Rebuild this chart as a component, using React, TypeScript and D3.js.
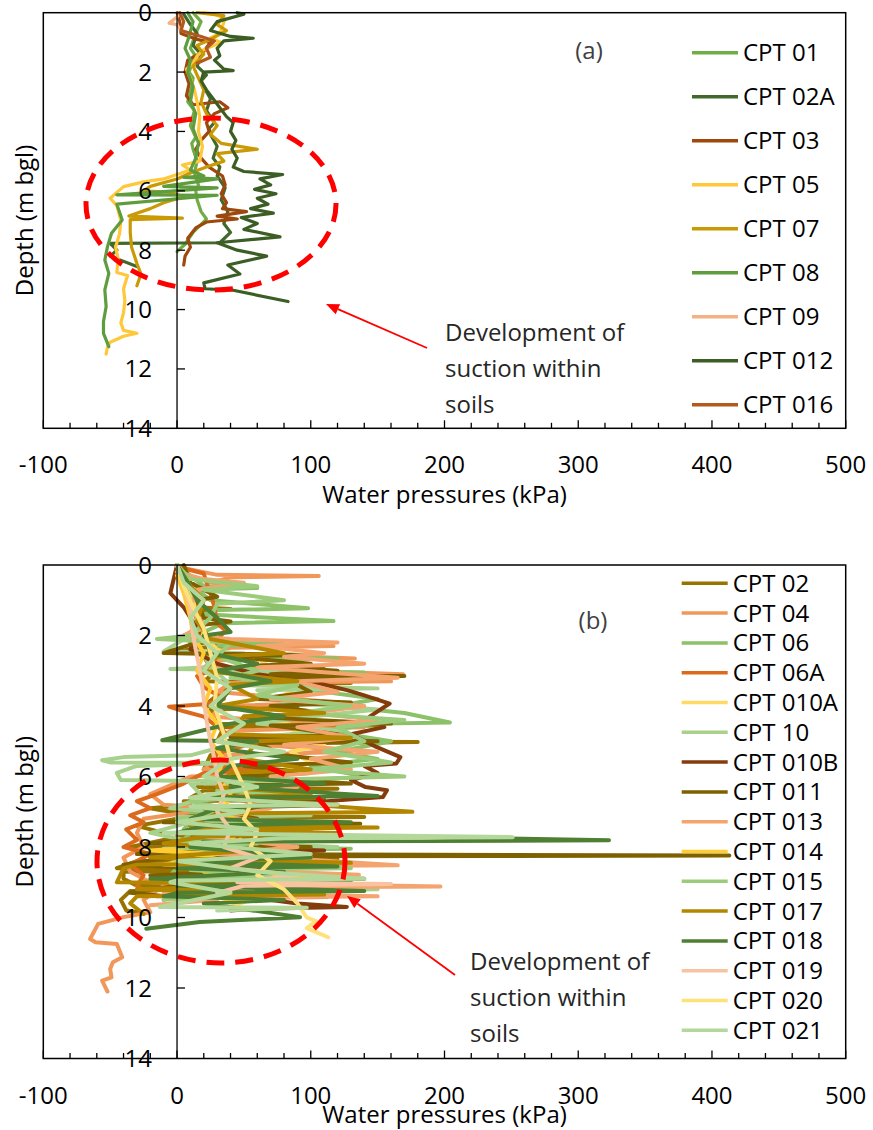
import React from 'react';
import * as d3 from 'd3';

type Pt = [number, number]; // [water pressure kPa, depth m]

const xTickValues = [-100, 0, 100, 200, 300, 400, 500];
const yTickValues = [0, 2, 4, 6, 8, 10, 12, 14];

// ---------------- Panel (a) ----------------
const namesA = ['CPT 01', 'CPT 02A', 'CPT 03', 'CPT 05', 'CPT 07', 'CPT 08', 'CPT 09', 'CPT 012', 'CPT 016'];
const colorsA = ['#70AD47', '#43682B', '#9E480E', '#FFC83A', '#C99A06', '#5E9C3E', '#F4B183', '#3C5E25', '#B4581E'];

const a01: Pt[] = [[12,0],[18,0.3],[14,0.7],[10,1.2],[13,1.4],[12,1.6],[9,2.0],[12,2.2],[11,2.5],[8,3.0],[13,3.3],[10,3.8],[14,4.2],[11,4.4],[12,4.6],[15,5.0],[13,5.4],[16,5.8],[14,6.0],[15,6.3],[18,6.7],[22,6.95],[12,7.4],[6,7.8],[0,8.05]];
const a02A: Pt[] = [[5,0.05],[10,0.4],[15,0.7],[12,1.1],[18,1.4],[15,1.8],[22,2.1],[18,2.3],[20,2.5],[25,2.9],[22,3.3],[28,3.7],[24,3.9],[25,4.1],[30,4.5],[27,4.9],[32,5.2],[30,5.5],[36,5.9],[33,6.3],[38,6.7],[35,7.1],[40,7.4],[32,7.75],[-50,7.77],[-45,8.0],[-50,8.2],[-30,8.55]];
const a03: Pt[] = [[0,0],[2,0.3],[3,0.7],[15,0.9],[25,1.0],[20,1.3],[8,1.6],[6,2.0],[9,2.4],[7,2.8],[12,3.1],[32,3.0],[38,3.2],[28,3.4],[22,3.7],[24,4.0],[18,4.3],[14,4.6],[18,4.9],[24,5.2],[34,5.5],[36,5.8],[33,6.1],[37,6.4],[34,6.6],[52,6.7],[30,6.85],[45,6.95],[22,7.05],[14,7.25],[8,7.6],[10,7.9],[6,8.2],[5,8.5]];
const a05: Pt[] = [[20,0],[28,0.05],[36,0.2],[32,0.7],[25,0.85],[33,1.0],[20,1.25],[15,1.45],[12,1.7],[7,1.9],[10,2.2],[13,2.6],[15,3.0],[17,3.5],[16,4.0],[19,4.5],[17,5.0],[4,5.13],[10,5.3],[0,5.45],[-10,5.6],[-25,5.7],[-40,5.86],[-50,6.25],[-45,6.5],[-42,7.0],[-43,7.45],[-46,7.9],[-44,8.3],[-45,8.75],[-37,8.85],[-40,9.3],[-39,9.7],[-40,10.1],[-42,10.45],[-40,10.7],[-30,10.8],[-40,10.9],[-50,11.1],[-52,11.25],[-53,11.5]];
const a07: Pt[] = [[15,0],[35,0.1],[30,0.4],[37,0.6],[25,0.9],[15,1.1],[20,1.4],[12,1.8],[16,2.2],[20,2.6],[18,3.0],[22,3.4],[30,3.8],[25,4.1],[33,4.4],[60,4.6],[30,4.75],[35,5.0],[22,5.2],[10,5.4],[0,5.6],[-20,5.85],[-25,6.0],[-5,6.05],[5,6.2],[-10,6.4],[-20,6.6],[-36,6.85],[4,6.92],[-35,6.97],[-35,7.4],[-34,7.9],[-30,8.45],[-27,8.8],[-30,9.2]];
const a08: Pt[] = [[8,0],[12,0.3],[9,0.8],[6,1.2],[10,1.6],[8,2.0],[12,2.5],[10,3.0],[14,3.4],[12,3.9],[16,4.4],[14,4.9],[10,5.3],[20,5.5],[5,5.55],[30,5.6],[-10,5.85],[30,5.9],[-45,6.14],[30,6.15],[-45,6.45],[-41,6.98],[-49,7.43],[-52,7.88],[-54,8.33],[-51,8.78],[-54,9.34],[-53,9.9],[-55,10.4],[-55,10.8],[-51,11.25]];
const a09: Pt[] = [[2,0],[0,0.15],[-6,0.35],[0,0.4],[3,0.6]];
const a012: Pt[] = [[45,0],[50,0.05],[30,0.3],[25,0.6],[40,0.8],[57,0.86],[35,0.95],[30,1.2],[32,1.45],[28,1.6],[35,1.9],[42,1.95],[20,2.0],[18,2.3],[22,2.6],[27,2.9],[32,3.2],[37,3.5],[42,3.7],[40,4.0],[44,4.3],[41,4.6],[45,4.9],[42,5.2],[50,5.35],[79,5.45],[62,5.6],[70,5.8],[58,5.95],[74,6.1],[60,6.25],[68,6.45],[55,6.6],[72,6.75],[48,6.9],[60,7.1],[50,7.3],[77,7.55],[30,7.75],[45,8.0],[67,8.2],[38,8.5],[47,8.8],[20,9.1],[21,9.3],[42,9.35],[83,9.73]];
const a016: Pt[] = [[2,0],[5,0.3],[3,0.6],[18,0.8],[28,0.95],[22,1.2],[25,1.5],[15,1.7]];
const seriesA: Pt[][] = [a01, a02A, a03, a05, a07, a08, a09, a012, a016];

// ---------------- Panel (b) ----------------
const namesB = ['CPT 02', 'CPT 04', 'CPT 06', 'CPT 06A', 'CPT 010A', 'CPT 10', 'CPT 010B', 'CPT 011', 'CPT 013', 'CPT 014', 'CPT 015', 'CPT 017', 'CPT 018', 'CPT 019', 'CPT 020', 'CPT 021'];
const colorsB = ['#997300', '#F1975A', '#8CC168', '#DC6A1C', '#FFD966', '#A9D18E', '#843C0C', '#7F6000', '#F4A46E', '#FFCD33', '#9DCB7C', '#B38600', '#4E7F32', '#F8C3A0', '#FFE17A', '#B4D89A'];

const b02: Pt[] = [[0,0],[5,0.3],[8,0.8],[15,1.2],[40,1.25],[12,1.3],[18,1.8],[10,2.2],[60,2.3],[15,2.35],[-5,2.5],[100,2.55],[20,2.6],[25,2.9],[110,2.95],[30,3.0],[20,3.3],[130,3.35],[40,3.4],[30,3.7],[20,4.0],[90,4.05],[25,4.1],[30,4.5],[150,4.55],[35,4.6],[30,5.0],[180,5.02],[40,5.08],[25,5.4],[20,5.8],[100,5.85],[30,5.9],[15,6.3],[120,6.35],[20,6.4],[10,6.6],[110,6.65],[5,6.7],[10,6.8],[-20,6.9],[-5,7.0],[70,7.05],[5,7.1],[140,7.15],[0,7.2],[-30,7.4],[-10,7.6],[60,7.65],[0,7.7],[100,7.75],[-10,7.8],[-35,8.0],[80,8.05],[-20,8.1],[-20,8.3],[120,8.35],[-30,8.4],[-45,8.6],[60,8.65],[-40,8.7],[-40,8.9],[-30,9.1],[40,9.15],[-35,9.25],[-42,9.5],[-38,9.8],[-30,9.85]];
const b04: Pt[] = [[0,0.05],[30,0.28],[106,0.31],[40,0.35],[25,0.5],[55,0.6],[20,0.7],[15,1.0],[20,1.5],[10,1.9],[5,2.0],[30,2.2],[117,2.3],[40,2.35],[25,2.5],[133,2.65],[30,2.7],[20,2.9],[169,3.1],[50,3.15],[160,3.3],[40,3.35],[30,3.6],[120,3.9],[35,4.0],[25,4.3],[140,4.6],[40,4.7],[30,5.0],[130,5.3],[35,5.4],[20,5.8],[80,5.9],[10,6.0],[-20,6.5],[-10,6.8],[30,6.9],[-25,7.2],[-30,7.6],[-25,8.0],[-40,8.3],[-35,8.7],[-20,9.0],[120,9.05],[-10,9.1],[-25,9.5],[-20,9.85],[-40,9.99],[-59,10.18],[-65,10.61],[-61,10.7],[-45,10.75],[-41,11.13],[-48,11.27],[-50,11.46],[-49,11.7],[-56,11.79],[-52,12.1]];
const b06: Pt[] = [[0,0],[10,0.3],[20,0.6],[60,0.65],[15,0.7],[25,1.0],[98,1.23],[30,1.28],[20,1.4],[117,1.59],[35,1.65],[20,1.9],[30,2.2],[80,2.25],[25,2.3],[40,2.6],[120,2.65],[45,2.7],[50,3.0],[140,3.05],[60,3.1],[90,3.5],[150,3.8],[120,4.0],[170,4.2],[204,4.47],[150,4.5],[110,4.7],[160,5.0],[120,5.3],[150,5.5],[100,5.7],[140,6.0],[60,6.2],[30,6.5],[80,6.55],[20,6.6],[10,7.0],[90,7.05],[15,7.1],[5,7.5],[100,7.55],[10,7.6],[0,8.0],[130,8.05],[5,8.1],[-5,8.5],[90,8.55],[0,8.6],[-10,9.0],[60,9.05],[-5,9.1],[-10,9.5]];
const b06A: Pt[] = [[0,0.05],[20,0.24],[22,0.5],[25,0.8],[28,1.2],[30,1.66],[36,1.85],[27,2.3],[28,2.7],[25,3.0],[15,3.15],[20,3.46],[35,3.8],[20,3.95],[-6,4.02],[5,4.15],[20,4.3],[37,4.78],[55,5.07],[30,5.35],[25,5.7],[60,5.8],[20,5.9],[5,6.2],[-15,6.5],[-30,6.7],[-20,6.9],[-35,7.1],[-25,7.3],[-38,7.5],[-30,7.8],[-40,8.0],[-20,8.2],[-35,8.5],[-25,8.8],[-30,9.1],[-20,9.35],[-15,9.4],[112,9.42],[20,9.45],[0,9.5]];
const b010A: Pt[] = [[0,0.1],[8,0.5],[12,1.0],[15,1.5],[20,2.0],[30,2.4],[50,2.6],[62,2.7],[70,2.9],[65,3.27],[90,3.46],[80,3.7],[95,3.9],[70,4.1],[67,4.4],[95,4.6],[80,4.9],[110,5.1],[85,5.3],[100,5.6],[70,5.9],[50,6.1],[40,6.4],[35,6.8],[45,7.2],[40,7.6],[55,8.0],[45,8.4],[60,8.8],[50,9.2],[55,9.5],[40,9.7]];
const b10: Pt[] = [[0,0.1],[5,0.5],[10,1.0],[15,1.5],[10,2.0],[-10,2.45],[50,2.5],[20,2.55],[25,2.9],[-5,2.95],[100,3.0],[30,3.05],[40,3.4],[150,3.5],[60,3.55],[80,3.9],[150,4.1],[100,4.3],[60,4.5],[120,4.7],[50,4.9],[30,5.2],[10,5.4],[-40,5.45],[-56,5.54],[-50,5.6],[40,5.62],[-30,5.7],[-45,5.9],[-42,6.1],[0,6.12],[110,6.15],[10,6.2],[20,6.6],[-5,6.9],[30,7.0],[100,7.1],[0,7.15],[10,7.3],[-20,7.6],[5,7.8],[120,8.0],[-10,8.05],[-10,8.2],[40,8.6],[-5,9.0],[150,9.2],[0,9.25],[20,9.4]];
const b010B: Pt[] = [[0,0],[-5,0.8],[5,1.2],[15,1.8],[10,2.4],[30,2.8],[60,3.1],[100,3.3],[127,3.55],[140,3.7],[159,3.93],[144,4.3],[155,4.6],[130,4.8],[149,5.16],[167,5.45],[164,5.63],[140,5.7],[150,5.9],[130,6.1],[141,6.3],[157,6.39],[154,6.58],[105,6.72],[82,6.77],[60,6.9],[30,7.2],[50,7.6],[30,8.0],[110,8.1],[40,8.2],[20,8.6],[60,9.0],[30,9.3],[90,9.6],[127,9.7],[60,9.75],[40,9.8]];
const b011: Pt[] = [[5,0],[10,0.5],[30,0.9],[15,1.0],[20,1.5],[40,1.6],[18,1.7],[15,2.2],[-10,2.5],[90,2.55],[40,2.6],[100,2.8],[60,2.85],[120,3.0],[70,3.1],[170,3.15],[80,3.2],[100,3.6],[60,3.8],[130,3.9],[70,4.0],[110,4.2],[50,4.3],[160,4.5],[70,4.55],[120,4.8],[40,4.9],[150,5.0],[60,5.05],[80,5.4],[130,5.6],[50,5.7],[100,5.9],[40,6.0],[130,6.2],[40,6.25],[70,6.4],[30,6.6],[120,6.8],[20,6.9],[60,7.2],[-10,7.3],[137,7.34],[10,7.4],[40,7.7],[-20,7.9],[100,8.0],[10,8.1],[-30,8.2],[413,8.24],[0,8.27],[-40,8.5],[60,8.7],[-20,8.8],[140,8.9],[0,8.95],[90,9.0],[0,9.1],[-35,9.3],[20,9.5]];
const b013: Pt[] = [[0,0.2],[20,0.4],[50,0.5],[15,0.7],[10,1.2],[20,1.8],[5,2.0],[40,2.1],[120,2.2],[60,2.3],[110,2.5],[80,2.6],[140,2.8],[60,2.9],[165,3.2],[90,3.3],[120,3.6],[70,3.8],[140,4.0],[100,4.2],[150,4.4],[90,4.6],[130,4.9],[80,5.1],[150,5.3],[100,5.5],[130,5.8],[70,6.0],[90,6.3],[40,6.6],[70,6.9],[30,7.2],[120,7.3],[30,7.35],[60,7.5],[20,7.7],[90,8.0],[30,8.2],[165,8.52],[40,8.55],[80,8.7],[136,8.79],[40,8.85],[20,9.0],[197,9.12],[60,9.15],[-10,9.3],[150,9.4],[20,9.45],[30,9.5],[-20,9.65]];
const b014: Pt[] = [[0,0.3],[5,0.8],[10,1.5],[12,2.0],[20,2.5],[15,3.0],[25,3.5],[20,4.0],[30,4.5],[25,5.0],[35,5.5],[30,6.0],[40,6.5],[35,7.0],[50,7.4],[40,7.8],[20,8.0],[-20,8.1],[30,8.2],[-10,8.5],[80,8.6],[20,8.7],[100,8.9],[40,9.0],[10,9.2],[60,9.4],[30,9.6]];
const b015: Pt[] = [[0,0],[10,0.4],[60,0.6],[20,0.7],[80,1.0],[30,1.1],[25,1.5],[10,2.0],[-15,2.1],[40,2.2],[30,2.6],[60,3.0],[40,3.2],[90,3.4],[60,3.7],[130,4.0],[90,4.2],[170,4.4],[120,4.6],[140,5.0],[110,5.3],[160,5.6],[100,5.8],[170,6.0],[60,6.1],[30,6.4],[80,6.5],[10,6.7],[50,7.0],[0,7.2],[80,7.4],[10,7.5],[110,7.8],[0,7.85],[60,7.9],[0,8.0],[100,8.3],[20,8.4],[130,8.6],[10,8.65],[70,8.8],[0,8.9],[120,9.0],[10,9.1],[40,9.4],[-10,9.5]];
const b017: Pt[] = [[0,0],[10,0.6],[20,1.0],[15,1.6],[25,2.1],[80,2.5],[30,2.6],[20,3.0],[90,3.3],[40,3.4],[60,3.8],[30,4.0],[110,4.2],[50,4.3],[40,4.8],[130,4.9],[60,5.0],[50,5.5],[100,5.8],[40,5.9],[30,6.3],[100,6.5],[20,6.6],[176,7.0],[30,7.05],[10,7.4],[150,7.45],[10,7.5],[120,7.6],[20,7.7],[-10,7.9],[60,8.1],[-20,8.3],[130,8.45],[-30,8.5],[-40,8.6],[-45,9.0],[90,9.05],[-30,9.2],[110,9.35],[-30,9.4],[-35,9.6],[-25,9.9]];
const b018: Pt[] = [[0,0],[8,0.5],[15,1.0],[30,1.5],[40,1.9],[20,2.0],[25,2.5],[60,2.8],[30,3.0],[70,3.3],[40,3.5],[30,4.0],[80,4.3],[40,4.5],[-11,4.97],[60,5.0],[30,5.2],[90,5.5],[40,5.7],[30,6.0],[110,6.2],[40,6.3],[150,6.55],[20,6.6],[100,6.8],[30,6.9],[10,7.2],[130,7.3],[20,7.4],[0,7.6],[323,7.81],[20,7.85],[10,8.0],[100,8.3],[0,8.4],[120,8.55],[0,8.6],[80,8.7],[-20,8.9],[130,9.0],[0,9.1],[140,9.25],[0,9.3],[-10,9.4],[80,9.5],[20,9.6],[92,9.99],[17,10.13],[-23,10.32]];
const b019: Pt[] = [[0,0],[5,0.6],[10,1.2],[12,2.0],[15,2.6],[18,3.2],[20,3.8],[22,4.4],[25,5.0],[28,5.5],[30,6.0],[35,6.5],[30,7.0],[40,7.5],[35,8.0],[60,8.3],[40,8.6],[90,8.8],[45,9.0],[160,9.05],[50,9.1],[30,9.3]];
const b020: Pt[] = [[0,0],[5,0.6],[12,1.2],[20,1.8],[25,2.5],[30,3.2],[28,4.0],[35,4.8],[40,5.5],[45,5.9],[50,6.3],[55,6.8],[50,7.2],[60,7.6],[55,8.0],[70,8.4],[60,8.8],[80,9.2],[90,9.6],[97,10.0],[104,10.1],[97,10.3],[113,10.56]];
const b021: Pt[] = [[0,0],[5,0.5],[20,1.0],[10,1.5],[15,2.0],[30,2.5],[20,3.0],[40,3.5],[25,4.0],[50,4.5],[30,5.0],[80,5.3],[40,5.5],[20,6.0],[60,6.3],[10,6.6],[120,6.8],[10,6.85],[50,7.0],[0,7.3],[60,7.5],[-10,7.6],[251,7.72],[80,7.75],[10,7.9],[100,8.2],[0,8.4],[60,8.7],[140,8.9],[0,8.95],[-5,9.0],[40,9.3],[-13,9.7],[97,9.72],[30,9.8]];
const seriesB: Pt[][] = [b02, b04, b06, b06A, b010A, b10, b010B, b011, b013, b014, b015, b017, b018, b019, b020, b021];

const FONT = "'Open Sans', sans-serif";
const FS = 24;

interface PanelProps {
  top: number;
  bottom: number;
  series: Pt[][];
  names: string[];
  colors: string[];
  lw: number;
  legendX: number;
  legendY0: number;
  legendDy: number;
  tag: string;
  tagX: number;
  tagY: number;
  ell: { cx: number; cy: number; rx: number; ry: number };
  arrow: { x1: number; y1: number; x2: number; y2: number };
  noteX: number;
  noteY0: number;
  titleBaseline: number;
}

function Panel(p: PanelProps) {
  const left = 43.3, right = 845.7;
  const x = d3.scaleLinear().domain([-100, 500]).range([left, right]);
  const y = d3.scaleLinear().domain([0, 14]).range([p.top, p.bottom]);
  const line = d3.line<Pt>().x(d => x(d[0])).y(d => y(d[1])).curve(d3.curveLinear);
  const minor = x.ticks(30);
  const x0 = x(0);

  const ax1 = p.arrow.x1, ay1 = p.arrow.y1, ax2 = p.arrow.x2, ay2 = p.arrow.y2;
  const ang = Math.atan2(ay2 - ay1, ax2 - ax1);
  const hl = 13, hw = 5.5;
  const bx = ax2 - hl * Math.cos(ang), by = ay2 - hl * Math.sin(ang);
  const head = `M${ax2},${ay2} L${bx + hw * Math.sin(ang)},${by - hw * Math.cos(ang)} L${bx - hw * Math.sin(ang)},${by + hw * Math.cos(ang)} Z`;

  const noteLines = ['Development of', 'suction within', 'soils'];

  return (
    <g>
      {p.series.map((s, i) => (
        <path key={i} d={line(s) || ''} fill="none" stroke={p.colors[i]} strokeWidth={p.lw} strokeLinejoin="round" strokeLinecap="round" />
      ))}
      <rect x={left} y={p.top} width={right - left} height={p.bottom - p.top} fill="none" stroke="#000" strokeWidth={1.5} />
      <line x1={x0} x2={x0} y1={p.top} y2={p.bottom} stroke="#000" strokeWidth={1.3} />
      {yTickValues.filter(v => v > 0 && v < 14).map(v => (
        <line key={v} x1={x0} x2={x0 + 8} y1={y(v)} y2={y(v)} stroke="#000" strokeWidth={1.3} />
      ))}
      {minor.map(v => (
        <line key={v} x1={x(v)} x2={x(v)} y1={p.bottom} y2={p.bottom - (v % 100 === 0 ? 8 : 5.5)} stroke="#000" strokeWidth={1.3} />
      ))}
      {yTickValues.map(v => (
        <text key={v} x={x0 - 25} y={y(v) + 8.5} textAnchor="end" fontFamily={FONT} fontSize={FS} fill="#000">{v}</text>
      ))}
      {xTickValues.map(v => (
        <text key={v} x={x(v)} y={p.bottom + 45} textAnchor="middle" fontFamily={FONT} fontSize={FS} fill="#000">{v}</text>
      ))}
      <text x={(left + right) / 2} y={p.titleBaseline} textAnchor="middle" fontFamily={FONT} fontSize={FS} fill="#000">Water pressures (kPa)</text>
      <text transform={`translate(33,${(p.top + p.bottom) / 2}) rotate(-90)`} textAnchor="middle" fontFamily={FONT} fontSize={FS} fill="#000">Depth (m bgl)</text>
      {p.names.map((n, i) => {
        const ly = p.legendY0 + i * p.legendDy;
        return (
          <g key={n}>
            <line x1={p.legendX} x2={p.legendX + 46} y1={ly} y2={ly} stroke={p.colors[i]} strokeWidth={3.5} />
            <text x={p.legendX + 51} y={ly + 8.5} fontFamily={FONT} fontSize={FS} fill="#000">{n}</text>
          </g>
        );
      })}
      <text x={p.tagX} y={p.tagY + 8.5} textAnchor="middle" fontFamily={FONT} fontSize={FS} fill="#404040">{p.tag}</text>
      <ellipse cx={p.ell.cx} cy={p.ell.cy} rx={p.ell.rx} ry={p.ell.ry} fill="none" stroke="#FF0000" strokeWidth={5} strokeDasharray="18 11" />
      <line x1={ax1} y1={ay1} x2={bx} y2={by} stroke="#FF0000" strokeWidth={1.8} />
      <path d={head} fill="#FF0000" />
      {noteLines.map((t, i) => (
        <text key={t} x={p.noteX} y={p.noteY0 + i * 36 + 8} fontFamily={FONT} fontSize={FS} fill="#262626">{t}</text>
      ))}
    </g>
  );
}

export default function App() {
  return (
    <svg width={873} height={1130} style={{ position: 'absolute', left: 0, top: 0, background: '#fff' }}>
      <rect x={0} y={0} width={873} height={1130} fill="#fff" />
      <Panel
        top={12.7} bottom={428.3}
        series={seriesA} names={namesA} colors={colorsA} lw={3.2}
        legendX={692} legendY0={52.7} legendDy={44}
        tag="(a)" tagX={589} tagY={50}
        ell={{ cx: 211, cy: 204, rx: 125, ry: 86 }}
        arrow={{ x1: 427, y1: 348, x2: 326, y2: 304 }}
        noteX={445} noteY0={333}
        titleBaseline={503}
      />
      <Panel
        top={565} bottom={1058.5}
        series={seriesB} names={namesB} colors={colorsB} lw={4}
        legendX={681.7} legendY0={583.3} legendDy={29.8}
        tag="(b)" tagX={593} tagY={620}
        ell={{ cx: 221, cy: 861.5, rx: 124, ry: 101.5 }}
        arrow={{ x1: 455, y1: 975, x2: 347, y2: 896 }}
        noteX={470} noteY0={962}
        titleBaseline={1123}
      />
    </svg>
  );
}
